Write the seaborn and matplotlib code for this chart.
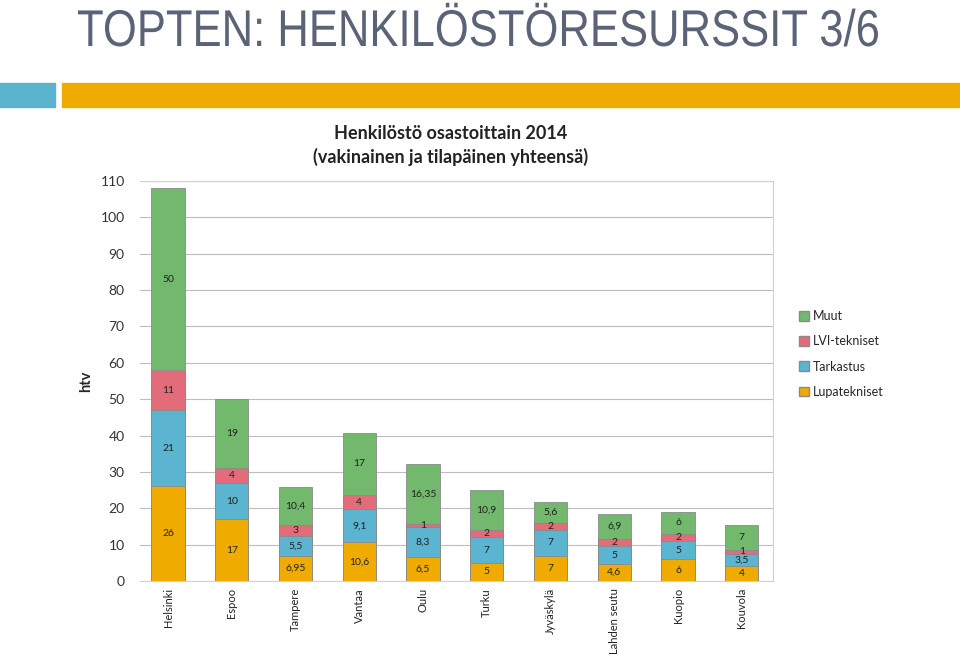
import numpy as np
import pandas as pd
import seaborn as sns
import matplotlib.pyplot as plt
from matplotlib.patches import Rectangle, Patch, PathPatch
from matplotlib.textpath import TextPath
from matplotlib.font_manager import FontProperties
from matplotlib.transforms import Affine2D, IdentityTransform

sns.set_style("white")
plt.rcParams['font.family'] = ['Lato', 'DejaVu Sans']

cities = ["Helsinki", "Espoo", "Tampere", "Vantaa", "Oulu", "Turku",
          "Jyväskylä", "Lahden seutu", "Kuopio", "Kouvola"]
lupatekniset = [26, 17, 6.95, 10.6, 6.5, 5, 7, 4.6, 6, 4]
tarkastus = [21, 10, 5.5, 9.1, 8.3, 7, 7, 5, 5, 3.5]
lvi = [11, 4, 3, 4, 1, 2, 2, 2, 2, 1]
muut = [50, 19, 10.4, 17, 16.35, 10.9, 5.6, 6.9, 6, 7]

series = ["Lupatekniset", "Tarkastus", "LVI-tekniset", "Muut"]
values = [lupatekniset, tarkastus, lvi, muut]
colors = ["#f0ab00", "#5bb4d0", "#e36c7b", "#72b96d"]

df = pd.DataFrame({"kaupunki": cities})
for name, v in zip(series, values):
    df[name] = v
cum = df[series].cumsum(axis=1)

fig = plt.figure(figsize=(9.6, 6.56), dpi=100)

# header title, squeezed horizontally to look like a narrow font
title = "TOPTEN: HENKILÖSTÖRESURSSIT 3/6"
tp = TextPath((0, 0), title, size=1, prop=FontProperties(family="Liberation Sans"))
ext = tp.get_extents()
sy = 37 / 0.716
sx = 800 / ext.width
tr = Affine2D().translate(-ext.x0, 0).scale(sx, sy).translate(78, 656 - 46)
fig.patches.append(PathPatch(tp, transform=tr + IdentityTransform(),
                             facecolor="#5b6377", edgecolor="none"))
fig.patches.append(Rectangle((0, 1 - 107/656), 55/960, 24/656,
                             transform=fig.transFigure, color="#5bb4cf"))
fig.patches.append(Rectangle((62/960, 1 - 107/656), 1 - 62/960, 24/656,
                             transform=fig.transFigure, color="#f0ab00"))

ax = fig.add_axes([140/960, 1 - 581/656, 633/960, 400/656])

# stacked bars, drawn back to front
for i in reversed(range(len(series))):
    sns.barplot(x=df["kaupunki"], y=cum[series[i]], color=colors[i],
                width=0.52, edgecolor="#8a8a8a", linewidth=0.6,
                saturation=1, ax=ax, zorder=3)

# segment labels
for j in range(len(cities)):
    bottom = 0
    for name in series:
        v = df[name][j]
        txt = ("%g" % v).replace(".", ",")
        ax.text(j, bottom + v / 2, txt, ha="center", va="center",
                fontsize=7.5, color="#222222", zorder=4)
        bottom += v

ax.set_ylim(0, 110)
ax.set_xlim(-0.44, 9.49)
ax.set_yticks(range(0, 111, 10))
ax.yaxis.grid(True, color="#bdbdbd", linewidth=0.8, zorder=0)
ax.set_axisbelow(True)
for s in ax.spines.values():
    s.set_color("#d0d0d0")
ax.spines["left"].set_visible(False)
ax.tick_params(axis="y", labelsize=10, colors="#333333", length=0, pad=11)
ax.tick_params(axis="x", labelsize=8, colors="#222222", length=0, pad=5)
plt.setp(ax.get_xticklabels(), rotation=90, va="top")
ax.set_xlabel("")
ax.set_ylabel("htv", fontsize=10.5, fontweight="bold", labelpad=5)

ax.set_title("Henkilöstö osastoittain 2014\n(vakinainen ja tilapäinen yhteensä)",
             fontsize=13, fontweight="bold", color="#222222", pad=13,
             linespacing=1.4, x=0.49)

handles = [Patch(facecolor=colors[i], edgecolor="#8a8a8a", label=series[i])
           for i in reversed(range(len(series)))]
fig.legend(handles=handles, loc="center left",
           bbox_to_anchor=(788/960, 1 - 354/656), frameon=False,
           fontsize=9, labelspacing=1.05, handlelength=0.8,
           handleheight=0.8, handletextpad=0.3)

fig.savefig("out.png", dpi=100)
